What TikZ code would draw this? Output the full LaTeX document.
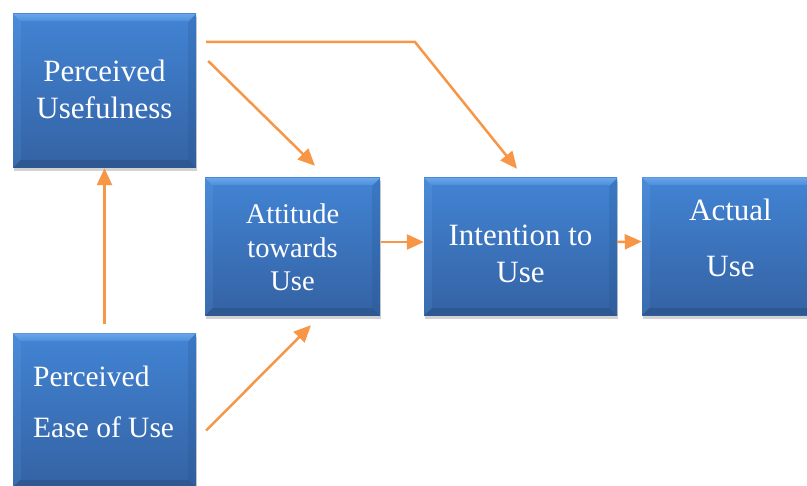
\documentclass[tikz,border=0pt]{standalone}
\usepackage{fontspec}
\setmainfont{Liberation Serif}
\newfontfamily\serifx{Liberation Serif}
\usetikzlibrary{arrows.meta,shadows,calc}
\definecolor{arrowc}{HTML}{F79646}
\definecolor{boxtop}{HTML}{4182D1}
\definecolor{boxbot}{HTML}{3564A6}
\definecolor{bevtop}{HTML}{68A5EA}
\definecolor{bevtopb}{HTML}{4C8CDA}
\definecolor{bevlefta}{HTML}{4A8BD8}
\definecolor{bevleftb}{HTML}{3A6BAE}
\definecolor{bevrighta}{HTML}{3B78C4}
\definecolor{bevrightb}{HTML}{2F5E9D}
\definecolor{bevbot}{HTML}{2D5892}
\tikzset{
  bbox/.style={rectangle, inner sep=0pt, draw=none, top color=boxtop, bottom color=boxbot,
    drop shadow={shadow xshift=0.5pt, shadow yshift=-3.5pt, opacity=0.25, fill=black!70},
    path picture={
      \shade[top color=bevlefta, bottom color=bevleftb] (path picture bounding box.north west) -- ($(path picture bounding box.north west)+(8,8)$)
        -- ($(path picture bounding box.south west)+(8,-8)$) -- (path picture bounding box.south west) -- cycle;
      \shade[top color=bevrighta, bottom color=bevrightb] (path picture bounding box.north east) -- ($(path picture bounding box.north east)+(-8,8)$)
        -- ($(path picture bounding box.south east)+(-8,-8)$) -- (path picture bounding box.south east) -- cycle;
      \shade[top color=bevtop, bottom color=bevtopb] (path picture bounding box.north west) -- (path picture bounding box.north east)
        -- ($(path picture bounding box.north east)+(-8,8)$) -- ($(path picture bounding box.north west)+(8,8)$) -- cycle;
      \fill[bevbot] (path picture bounding box.south west) -- ($(path picture bounding box.south west)+(8,-8)$)
        -- ($(path picture bounding box.south east)+(-8,-8)$) -- (path picture bounding box.south east) -- cycle;
      \shade[top color=boxtop, bottom color=boxbot] ($(path picture bounding box.north west)+(8,8)$) rectangle ($(path picture bounding box.south east)+(-8,-8)$);
    }},
  lbl/.style={text=white, align=center, inner sep=0pt},
  arr/.style={draw=arrowc, line width=2.5pt, -{Triangle[length=17pt,width=15pt]}},
}
\begin{document}
\begin{tikzpicture}[x=1pt,y=-1pt]
\useasboundingbox (0,0) rectangle (807,486);
\clip (0,0) rectangle (807,486);
% boxes
\node[bbox, minimum width=183pt, minimum height=154pt] (pu) at (104.5,91) {};
\node[bbox, minimum width=175pt, minimum height=138pt] (att) at (292.5,247) {};
\node[bbox, minimum width=193pt, minimum height=138pt] (int) at (520.5,247) {};
\node[bbox, minimum width=177pt, minimum height=138pt] (act) at (730.5,246.5) {};
\node[bbox, minimum width=183pt, minimum height=154pt] (peou) at (104.5,410.5) {};
% texts (base anchor = baseline of last line)
\node[lbl, anchor=base, font=\serifx\fontsize{31}{37}\selectfont] (put) at (104.5,119) {Perceived\\Usefulness};
\node[lbl, anchor=base, font=\serifx\fontsize{28.5}{33.5}\selectfont] (attt) at (292.5,291) {Attitude\\towards\\Use};
\node[lbl, anchor=base, font=\serifx\fontsize{31}{37}\selectfont] (intt) at (520.5,283) {Intention to\\Use};
\node[lbl, anchor=base, font=\serifx\fontsize{31}{56}\selectfont] (actt) at (730.5,277) {Actual\\Use};
\node[lbl, anchor=base west, align=left, font=\serifx\fontsize{29.5}{51}\selectfont] (peout) at (33,438) {Perceived\\Ease of Use};
% connectors
\coordinate (bend) at (415,42);
\draw[arr] ([shift={(0,-9)}]peou.north) -- (pu.south);
\draw[arr] ([shift={(12,-30)}]pu.east) -- ([shift={(22.5,-12)}]att.north);
\draw[arr] ([shift={(10,-49)}]pu.east) -- (bend) -- ([shift={(-3.5,-9)}]int.north);
\draw[arr] ([shift={(10,20)}]peou.east) -- ([shift={(18.5,9)}]att.south);
\draw[arr] ([shift={(1,-5)}]att.east) -- ([shift={(0,-5)}]int.west);
\draw[arr] ([shift={(0,-5)}]int.east) -- ([shift={(0,-5)}]act.west);
\end{tikzpicture}
\end{document}
